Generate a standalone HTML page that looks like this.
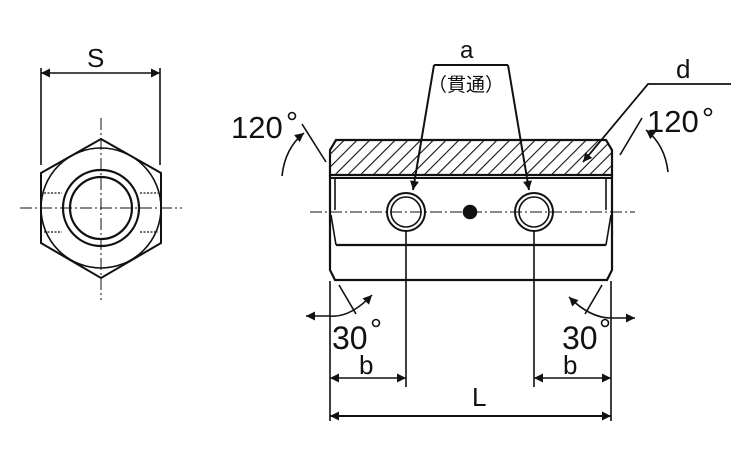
<!DOCTYPE html>
<html><head><meta charset="utf-8"><style>body{margin:0;background:#fff}svg{display:block}text{font-family:"Liberation Sans","Noto Sans CJK JP",sans-serif;fill:#111}</style></head>
<body>
<svg width="750" height="450" viewBox="0 0 750 450" xmlns="http://www.w3.org/2000/svg">
<defs>
<pattern id="h" patternUnits="userSpaceOnUse" width="9" height="9" patternTransform="rotate(45)">
<line x1="0" y1="0" x2="0" y2="9" stroke="#111" stroke-width="2.2"/></pattern>
<marker id="ar" viewBox="0 0 10 10" refX="10" refY="5" markerWidth="18" markerHeight="9" markerUnits="userSpaceOnUse" orient="auto-start-reverse"><path d="M0,0L10,5L0,10z" fill="#111"/></marker>
</defs>
<g stroke="#111" fill="none" stroke-width="1.6">
<polygon points="101,139 161,173 161,243 101,278 41,243 41,173" stroke-width="2"/>
<circle cx="101" cy="208" r="60"/>
<circle cx="101" cy="208" r="38" stroke-width="2.2"/>
<circle cx="101" cy="208" r="31" stroke-width="2.2"/>
<g stroke-dasharray="2,1.5" stroke-width="1.2"><line x1="44" y1="193" x2="62" y2="193"/><line x1="140" y1="193" x2="158" y2="193"/><line x1="44" y1="232" x2="62" y2="232"/><line x1="140" y1="232" x2="158" y2="232"/></g>
<g stroke-width="1" stroke-dasharray="12,3,2,3"><line x1="20" y1="208" x2="182" y2="208"/><line x1="101" y1="118" x2="101" y2="300"/></g>
<line x1="41" y1="68" x2="41" y2="165"/><line x1="160" y1="68" x2="160" y2="165"/>
<line x1="41" y1="73" x2="160" y2="73" marker-start="url(#ar)" marker-end="url(#ar)"/>
<path d="M336,140 L606,140 L612,150 L612,175 L330,175 L330,150 Z" fill="url(#h)" stroke-width="2.2"/>
<path d="M330,175 L330,270 L335,280 L607,280 L612,270 L612,175" stroke-width="2.2"/>
<line x1="330" y1="178" x2="612" y2="178" stroke-width="2"/>
<line x1="335" y1="178" x2="335" y2="210"/><line x1="606" y1="178" x2="606" y2="210"/>
<path d="M331,215 L336,245 M611,215 L606,245"/>
<line x1="336" y1="245" x2="606" y2="245" stroke-width="2.2"/>
<line x1="310" y1="212" x2="635" y2="212" stroke-width="1" stroke-dasharray="12,3,2,3"/>
<circle cx="406" cy="212" r="19" stroke-width="2"/><circle cx="406" cy="212" r="15"/>
<circle cx="534" cy="212" r="19" stroke-width="2"/><circle cx="534" cy="212" r="15"/>
<circle cx="470" cy="212" r="6.5" fill="#111"/>
<path d="M434,65 L508,65" stroke-width="2"/>
<line x1="434" y1="65" x2="413" y2="190" marker-end="url(#ar)" stroke-width="2"/>
<line x1="508" y1="65" x2="529" y2="190" marker-end="url(#ar)" stroke-width="2"/>
<path d="M731,84 L648,84 L583,162" marker-end="url(#ar)" stroke-width="1.8"/>
<line x1="302" y1="124" x2="326" y2="162"/>
<path d="M282,176 Q285,148 304,133" marker-end="url(#ar)"/>
<line x1="642" y1="118" x2="620" y2="155"/>
<path d="M668,172 Q665,145 646,130" marker-end="url(#ar)"/>
<line x1="330" y1="281" x2="330" y2="421"/><line x1="611" y1="281" x2="611" y2="421"/>
<line x1="406" y1="230" x2="406" y2="387"/><line x1="534" y1="230" x2="534" y2="387"/>
<line x1="330" y1="378" x2="406" y2="378" marker-start="url(#ar)" marker-end="url(#ar)"/>
<line x1="534" y1="378" x2="611" y2="378" marker-start="url(#ar)" marker-end="url(#ar)"/>
<line x1="330" y1="416" x2="611" y2="416" marker-start="url(#ar)" marker-end="url(#ar)" stroke-width="2"/>
<line x1="339" y1="285" x2="356" y2="314"/>
<path d="M330,316 Q350,318 372,295" marker-end="url(#ar)"/>
<line x1="306" y1="316" x2="330" y2="316" marker-start="url(#ar)"/>
<line x1="602" y1="285" x2="585" y2="314"/>
<path d="M611,318 Q590,318 569,297" marker-end="url(#ar)"/>
<line x1="635" y1="318" x2="611" y2="318" marker-start="url(#ar)"/>
<g stroke-width="1.6"><circle cx="292" cy="116" r="3.5"/><circle cx="708" cy="112" r="3.5"/><circle cx="376" cy="323" r="3.5"/><circle cx="605" cy="323" r="3.5"/></g>
</g>
<g font-size="26">
<text x="87" y="67">S</text>
<text x="460" y="58" font-size="24">a</text>
<text x="428" y="91" font-size="19">（貫通）</text>
<text x="676" y="78">d</text>
<text x="231" y="138" font-size="31">120</text>
<text x="647" y="132" font-size="31">120</text>
<text x="332" y="349" font-size="32">30</text>
<text x="562" y="349" font-size="32">30</text>
<text x="359" y="374">b</text><text x="563" y="374">b</text>
<text x="472" y="406">L</text>
</g>
</svg>
</body></html>
